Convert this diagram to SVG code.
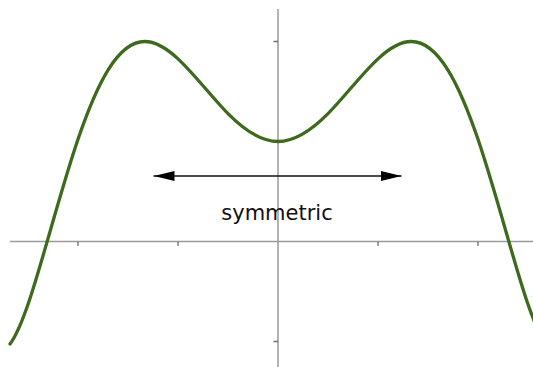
<svg xmlns="http://www.w3.org/2000/svg" width="533" height="367" viewBox="0 0 533 367">
<style>
.axis{stroke:#9a9a9a;stroke-width:1.5;fill:none}
.tick{stroke:#6e6e6e;stroke-width:1.3;fill:none}
.curve{stroke:#3d6a1c;stroke-width:3.3;fill:none;stroke-linecap:round}
.arrow{stroke:#111;stroke-width:1.3;fill:none}
.label{font-family:"DejaVu Sans","Liberation Sans",sans-serif;font-size:21px;fill:#111;text-anchor:middle}
</style>
<defs>
<marker id="head" viewBox="0 0 21 10" markerUnits="userSpaceOnUse" markerWidth="21" markerHeight="10" refX="21" refY="5" orient="auto-start-reverse">
<path d="M0,0 L21,5 L0,10 Z" fill="#000"/>
</marker>
</defs>
<rect width="533" height="367" fill="#fff"/>
<g id="axes">
<line class="axis" x1="10" y1="241.5" x2="533" y2="241.5"/>
<line class="axis" x1="278" y1="9" x2="278" y2="367"/>
<path class="tick" d="M78,241.5 V246 M178,241.5 V246 M378,241.5 V246 M478,241.5 V246 M278,41.5 H273.5 M278,341.5 H273.5"/>
</g>
<g id="curve">
<path class="curve" d="M10,344.02 C22.67,326.89 35.33,282.62 48,238.59 C58,203.82 68,168.69 78,139.34 C88,110 98,86.34 108,70.12 C120.23,50.27 132.47,41.53 144.7,41.52 C155.8,41.51 166.9,48.54 178,58.84 C194.67,74.3 211.33,96.72 228,113.62 C244.67,130.51 261.33,141.5 278,141.5 C294.67,141.5 311.33,130.51 328,113.62 C344.67,96.72 361.33,74.3 378,58.84 C389.1,48.54 400.2,41.51 411.3,41.52 C423.53,41.53 435.77,50.27 448,70.12 C458,86.34 468,110 478,139.34 C488,168.69 498,203.82 508,238.59 C520.67,282.62 533.33,326.89 546,344.02"/>
</g>
<g id="connectors">
<line class="arrow" x1="153.5" y1="176" x2="401.5" y2="176" marker-start="url(#head)" marker-end="url(#head)"/>
</g>
<g id="label">
<text class="label" x="277" y="220">symmetric</text>
</g>
</svg>
